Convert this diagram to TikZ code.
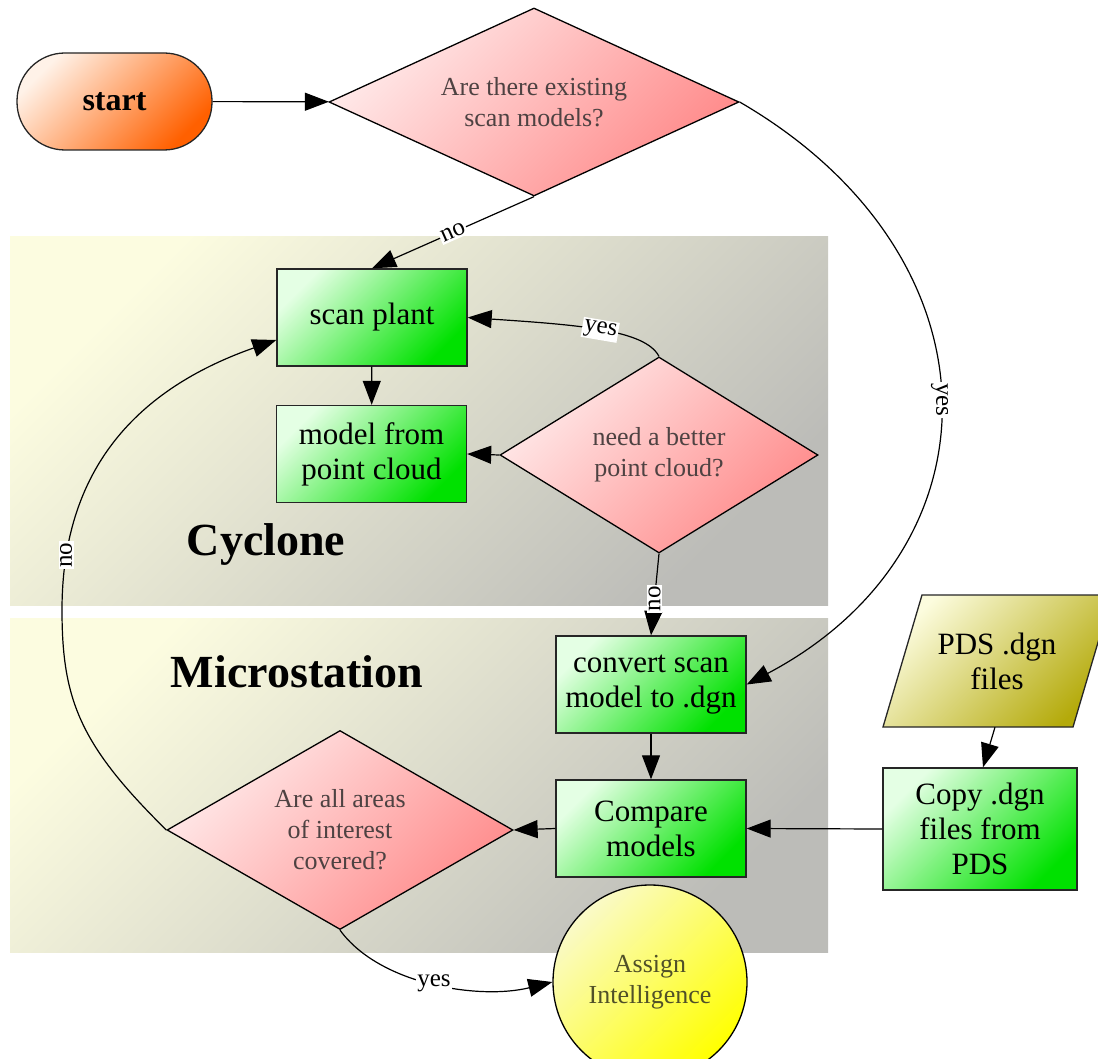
\documentclass[tikz,border=0pt]{standalone}
\usepackage{fontspec}
\setmainfont{Liberation Serif}
\usetikzlibrary{shapes.geometric,arrows.meta}
\definecolor{clA}{RGB}{252,252,224}
\definecolor{clB}{RGB}{188,188,184}
\definecolor{gA}{RGB}{228,255,228}
\definecolor{gB}{RGB}{0,225,0}
\definecolor{pA}{RGB}{255,234,234}
\definecolor{pB}{RGB}{255,138,138}
\definecolor{oA}{RGB}{255,242,232}
\definecolor{oB}{RGB}{255,96,0}
\definecolor{yA}{RGB}{250,250,200}
\definecolor{yB}{RGB}{255,255,0}
\definecolor{olA}{RGB}{252,252,222}
\definecolor{olB}{RGB}{180,170,10}
\definecolor{dectext}{RGB}{78,66,66}
\definecolor{circtext}{RGB}{80,80,40}
\tikzset{
  edge/.style={draw=black, line width=1.2pt, -{Triangle[length=24pt,width=18pt]}},
  lab/.style={fill=white, inner sep=1.5pt, text=black, font=\fontsize{25}{27}\selectfont},
  proc/.style={rectangle, draw=black!85, line width=1.4pt, minimum width=190, minimum height=97,
    top color=gA, bottom color=gB, shading angle=45, align=center, inner sep=0pt,
    font=\fontsize{31}{35}\selectfont},
  dec/.style={diamond, draw=black, line width=1.3pt, top color=pA, bottom color=pB, shading angle=45,
    align=center, inner sep=0pt, text=dectext, font=\fontsize{26}{31}\selectfont},
  term/.style={rectangle, rounded corners=48pt, draw=black!85, line width=1.3pt, minimum width=195,
    minimum height=97, top color=oA, bottom color=oB, shading angle=45, font=\bfseries\fontsize{32}{36}\selectfont},
  circ/.style={circle, draw=black, line width=1.3pt, minimum size=194, top color=yA, bottom color=yB,
    shading angle=45, align=center, inner sep=0pt, text=circtext, font=\fontsize{26}{31}\selectfont},
  cluster/.style={top color=clA, bottom color=clB, shading angle=45},
  clusterlab/.style={font=\bfseries\fontsize{46}{50}\selectfont},
}
\begin{document}
\begin{tikzpicture}[x=1pt,y=-1pt]
\clip (0,0) rectangle (1098,1059);
\fill[white] (0,0) rectangle (1098,1059);
% clusters
\shade[cluster] (10,237) rectangle (828,605);
\shade[cluster] (10,618) rectangle (828,952);
\node[clusterlab] (cyc) at (266,545) {Cyclone};
\node[clusterlab] (mic) at (297,672) {Microstation};
% nodes
\node[term] (start) at (114.5,101.5) {start};
\node[dec, shape aspect=2.18, minimum width=410, minimum height=188] (d1) at (534,102) {Are there existing\\scan models?};
\node[proc] (scan) at (372,317.5) {scan plant};
\node[proc] (model) at (371.5,454) {model from\\point cloud};
\node[dec, shape aspect=1.62, minimum width=318, minimum height=196] (d2) at (659,455) {need a better\\point cloud?};
\node[proc] (conv) at (651,684.5) {convert scan\\model to .dgn};
\node[proc] (comp) at (651,828.5) {Compare\\models};
\node[dec, shape aspect=1.74, minimum width=346, minimum height=199] (d3) at (340,830) {Are all areas\\of interest\\covered?};
\node[proc, minimum width=194, minimum height=122] (copy) at (980,829) {Copy .dgn\\files from\\PDS};
\shade[top color=olA, bottom color=olB, shading angle=45, draw=black!85, line width=1.3pt]
  (922,595) -- (1112,595) -- (1073,727) -- (883,727) -- cycle;
\node[align=center, minimum height=132, inner sep=0pt, font=\fontsize{31}{35}\selectfont] (pds) at (997,661) {PDS .dgn\\files};
\node[circ] (ai) at (650,982) {Assign\\Intelligence};
\coordinate (noL) at (62,610);
% edges
\draw[edge] (start) -- (d1);
\draw[edge] (d1.south) -- node[lab, sloped, pos=0.5] {no} (scan.north);
\draw[edge] (d1.east) .. controls (1005,256) and (1005,548) .. node[lab, rotate=-90, pos=0.5] {yes} (conv.east);
\draw[edge] (d2.north) .. controls (645,330) and (580,325) .. node[lab, sloped, pos=0.5] {yes} (scan.east);
\draw[edge] (scan) -- (model);
\draw[edge] (d2.west) -- (model.east);
\draw[edge] (d2.south) -- node[lab, rotate=90, pos=0.55] {no} (conv.north);
\draw[edge] (conv) -- (comp);
\draw[edge] ([xshift=-2pt]pds.south) -- ([xshift=3pt]copy.north);
\draw[edge] (copy.west) -- (comp.east);
\draw[edge] (comp.west) -- (d3.east);
\draw[edge] (d3.west) .. controls (80,745) and (62,700) .. (noL)
  .. controls (62,460) and (147,385.5) .. node[lab, rotate=90, pos=0.13] {no} ([yshift=-22.5pt]scan.west);
\draw[edge] (d3.south) .. controls (380,985) and (480,1000) .. node[lab, pos=0.5] {yes} (ai.west);
\end{tikzpicture}
\end{document}
